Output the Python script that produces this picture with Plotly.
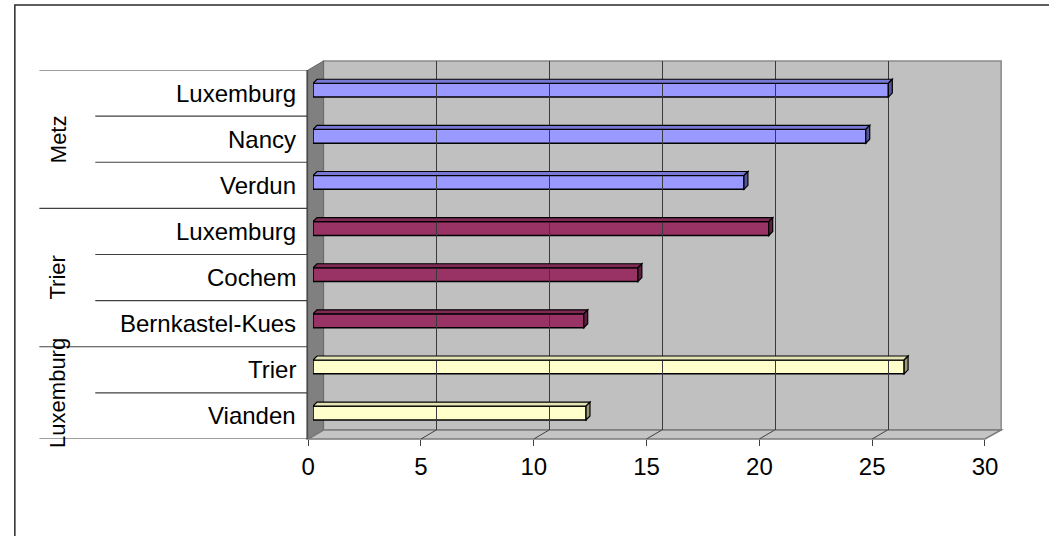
import plotly.graph_objects as go

# Journey times grouped by origin city (top to bottom)
origins = ["Metz", "Trier", "Luxemburg"]
metz_dest = ["Luxemburg", "Nancy", "Verdun"]
metz_vals = [25.5, 24.5, 19.1]
trier_dest = ["Luxemburg", "Cochem", "Bernkastel-Kues"]
trier_vals = [20.2, 14.4, 12.0]
lux_dest = ["Trier", "Vianden"]
lux_vals = [26.2, 12.1]

x_ticks = [0, 5, 10, 15, 20, 25, 30]

groups = [
    (origins[0], metz_dest, metz_vals, "#9999FF", "#7777D6", "#55559A"),
    (origins[1], trier_dest, trier_vals, "#993366", "#7F2A55", "#5E1F3F"),
    (origins[2], lux_dest, lux_vals, "#FFFFCC", "#E4E4B4", "#9A9A78"),
]

FONT = "Liberation Sans, Arial, sans-serif"
W, H = 1049, 536


def fx(p):
    return p / W


def fy(p):
    return 1 - p / H


# pixel geometry of the box
FRONT_L, FRONT_R, FRONT_B = 307, 997, 439
BACK_L, BACK_R, BACK_B, BACK_T = 322.6, 1013.5, 430, 61
TOP_Y = 70
BAR_L = 312
n = sum(len(g[1]) for g in groups)
band_px = (FRONT_B - TOP_Y) / n
unit_px = (FRONT_R - FRONT_L) / 30
depth_dx = 4 / unit_px
depth_dy = 4 / band_px

fig = go.Figure()
shapes = []
annotations = []

# outer chart border
shapes.append(dict(type="rect", xref="paper", yref="paper",
                   x0=fx(8), x1=1.05, y0=-0.05, y1=fy(5),
                   line=dict(color="#2a2a2a", width=1.5), layer="below"))

# back wall
shapes.append(dict(type="rect", xref="paper", yref="paper",
                   x0=fx(BACK_L), x1=fx(BACK_R), y0=fy(BACK_B), y1=fy(BACK_T),
                   fillcolor="#C0C0C0", line=dict(color="#8A8A8A", width=1.5),
                   layer="below"))
# side wall
shapes.append(dict(type="path", xref="paper", yref="paper",
                   path=f"M {fx(FRONT_L)},{fy(TOP_Y)} L {fx(BACK_L)},{fy(BACK_T)} "
                        f"L {fx(BACK_L)},{fy(BACK_B)} L {fx(FRONT_L)},{fy(FRONT_B)} Z",
                   fillcolor="#808080", line=dict(color="#6a6a6a", width=1),
                   layer="below"))
# floor
shapes.append(dict(type="path", xref="paper", yref="paper",
                   path=f"M {fx(FRONT_L)},{fy(FRONT_B)} L {fx(BACK_L)},{fy(BACK_B)} "
                        f"L {fx(BACK_R)},{fy(BACK_B)} L {fx(FRONT_R)},{fy(FRONT_B)} Z",
                   fillcolor="#C4C4C4", line=dict(color="#7a7a7a", width=1.5),
                   layer="below"))
# floor grid diagonals
for t in x_ticks[1:-1]:
    shapes.append(dict(type="line", xref="paper", yref="paper",
                       x0=fx(FRONT_L + t * unit_px), y0=fy(FRONT_B),
                       x1=fx(BACK_L + t * unit_px), y1=fy(BACK_B),
                       line=dict(color="#404040", width=1), layer="below"))

# vertical category axis line
shapes.append(dict(type="line", xref="paper", yref="paper",
                   x0=fx(306), x1=fx(306), y0=fy(TOP_Y), y1=fy(FRONT_B),
                   line=dict(color="#404040", width=1.5)))

k = 0
for origin, dests, vals, col, top_col, side_col in groups:
    ys = [n - 1 - (k + i) for i in range(len(dests))]
    fig.add_trace(go.Bar(
        x=vals, y=ys, orientation="h", width=0.30, offset=-0.087,
        marker=dict(color=col, line=dict(color="#000000", width=1.5)),
        name=origin, showlegend=False, hoverinfo="x",
        xaxis="x", yaxis="y"))
    for y, v, d in zip(ys, vals, dests):
        top = y - 0.087 + 0.30
        bot = y - 0.087
        shapes.append(dict(type="path", xref="x", yref="y",
                           path=f"M 0,{top} L {v},{top} L {v + depth_dx},{top + depth_dy} "
                                f"L {depth_dx},{top + depth_dy} Z",
                           fillcolor=top_col, line=dict(color="#000000", width=1.2)))
        shapes.append(dict(type="path", xref="x", yref="y",
                           path=f"M {v},{bot} L {v},{top} L {v + depth_dx},{top + depth_dy} "
                                f"L {v + depth_dx},{bot + depth_dy} Z",
                           fillcolor=side_col, line=dict(color="#000000", width=1.2)))
        annotations.append(dict(xref="paper", yref="y", x=fx(297), y=y,
                                xanchor="right", yanchor="middle", text=d,
                                showarrow=False,
                                font=dict(family=FONT, size=24, color="#000000")))
    # group label
    annotations.append(dict(xref="paper", yref="y", x=fx(52),
                            y=(ys[0] + ys[-1]) / 2, textangle=-90,
                            xanchor="center", yanchor="middle", text=origin,
                            showarrow=False,
                            font=dict(family=FONT, size=22, color="#000000")))
    # inner separators
    for y in ys[:-1]:
        shapes.append(dict(type="line", xref="paper", yref="y",
                           x0=fx(90), x1=fx(306), y0=y - 0.5, y1=y - 0.5,
                           line=dict(color="#404040", width=1.2)))
    k += len(dests)

# group separators
k = 0
for g in groups:
    shapes.append(dict(type="line", xref="paper", yref="y",
                       x0=fx(33), x1=fx(306), y0=n - 1 - k + 0.5, y1=n - 1 - k + 0.5,
                       line=dict(color="#404040", width=1.2)))
    k += len(g[1])
shapes.append(dict(type="line", xref="paper", yref="y",
                   x0=fx(33), x1=fx(306), y0=-0.5, y1=-0.5,
                   line=dict(color="#404040", width=1.2)))

# anchors so the helper axes get drawn
fig.add_trace(go.Scatter(x=[0], y=[0], xaxis="x2", yaxis="y2", mode="markers",
                         marker=dict(opacity=0), hoverinfo="skip", showlegend=False))
fig.add_trace(go.Scatter(x=[0], y=[0], xaxis="x3", yaxis="y3", mode="markers",
                         marker=dict(opacity=0), hoverinfo="skip", showlegend=False))

fig.update_layout(
    width=W, height=H, autosize=False,
    margin=dict(l=0, r=0, t=0, b=0),
    paper_bgcolor="#FFFFFF", plot_bgcolor="rgba(0,0,0,0)",
    barmode="overlay",
    shapes=shapes, annotations=annotations,
    xaxis=dict(domain=[fx(BAR_L), fx(BAR_L + 30 * unit_px)], range=[0, 30],
               visible=False, fixedrange=True),
    yaxis=dict(domain=[fy(FRONT_B), fy(TOP_Y)], range=[-0.5, n - 0.5],
               visible=False, fixedrange=True),
    xaxis2=dict(domain=[fx(FRONT_L), fx(FRONT_R)], range=[0, 30], anchor="y2",
                tickvals=x_ticks, ticktext=[str(t) for t in x_ticks],
                ticks="outside", ticklen=6, tickcolor="#404040", tickwidth=1.2,
                showgrid=False, zeroline=False, showline=False,
                tickfont=dict(family=FONT, size=24, color="#000000")),
    yaxis2=dict(domain=[fy(FRONT_B) - 0.0005, fy(FRONT_B)], range=[0, 1],
                visible=False, anchor="x2"),
    xaxis3=dict(domain=[fx(BACK_L), fx(BACK_R)], range=[0, 30], anchor="y3",
                tickvals=x_ticks, showticklabels=False, ticks="",
                showgrid=True, gridcolor="#3a3a3a", gridwidth=1,
                zeroline=False, showline=False),
    yaxis3=dict(domain=[fy(BACK_B), fy(BACK_T)], range=[0, 1], anchor="x3",
                showgrid=False, zeroline=False, showticklabels=False),
)

fig.write_html("out.html", config={"responsive": False})
